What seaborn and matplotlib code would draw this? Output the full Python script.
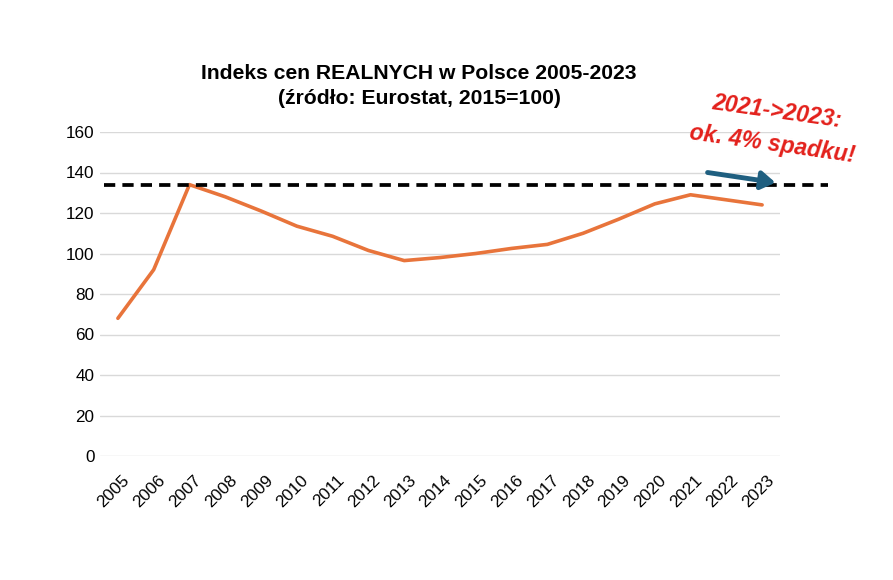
import matplotlib
matplotlib.use("Agg")
import matplotlib.pyplot as plt
import matplotlib.transforms as mtransforms
import seaborn as sns
import pandas as pd

# data
years = list(range(2005, 2024))
index_values = [68, 92, 134, 128, 121, 113.5, 108.5, 101.5, 96.5, 98, 100,
                102.5, 104.5, 110, 117, 124.5, 129, 126.5, 124]
peak_level = 134
y_ticks = [0, 20, 40, 60, 80, 100, 120, 140, 160]

title = "Indeks cen REALNYCH w Polsce 2005-2023\n(źródło: Eurostat, 2015=100)"
note = "2021->2023:\nok. 4% spadku!"

sns.set_theme(style="white")
plt.rcParams['font.family'] = ['Liberation Sans', 'DejaVu Sans']

df = pd.DataFrame({"year": years, "value": index_values})

fig = plt.figure(figsize=(8.93, 5.8), dpi=100)
ax = fig.add_axes([100 / 893, 124 / 580, 680 / 893, 324 / 580])

sns.lineplot(data=df, x="year", y="value", ax=ax, color="#E8743B",
             linewidth=2.6, zorder=3)

ax.set_xlim(2004.5, 2023.5)
ax.set_ylim(0, 160)
ax.set_yticks(y_ticks)
ax.set_xticks(years)
ax.set_xticklabels([str(y) for y in years], rotation=45, ha="right",
                   rotation_mode="anchor")
ax.tick_params(axis="both", labelsize=12.3, colors="#000000", length=0)
ax.tick_params(axis="x", pad=12)
ax.tick_params(axis="y", pad=4)
# nudge rotated year labels a bit to the right, like the original
shift = mtransforms.ScaledTranslation(4 / 100, 0, fig.dpi_scale_trans)
for lbl in ax.get_xticklabels():
    lbl.set_transform(lbl.get_transform() + shift)
ax.set_xlabel("")
ax.set_ylabel("")
ax.grid(axis="y", color="#D9D9D9", linewidth=1)
ax.set_axisbelow(True)
for s in ax.spines.values():
    s.set_visible(False)

# dashed level of the 2007 peak, reaching past the plot area
ax.plot([2004.6, 2024.85], [peak_level, peak_level], linestyle=(0, (3, 1.9)),
        color="black", linewidth=2.7, clip_on=False, zorder=4)

# arrow 2021 -> 2023
ax.annotate("", xy=(2023.45, 134.8), xytext=(2021.4, 140.2),
            arrowprops=dict(arrowstyle="-|>,head_length=0.7,head_width=0.45",
                            color="#1F5F80", linewidth=3.5),
            annotation_clip=False, zorder=5)

ax.text(2023.35, 162, note, color="#E3201B", fontsize=16.5, fontweight="bold",
        fontstyle="italic", ha="center", va="center", rotation=-8,
        linespacing=1.5, zorder=6)

fig.text(419 / 893, 1 - 86 / 580, title, ha="center", va="center",
         fontsize=15.2, fontweight="bold", linespacing=1.45, color="black")

fig.savefig("out.png", dpi=100)
